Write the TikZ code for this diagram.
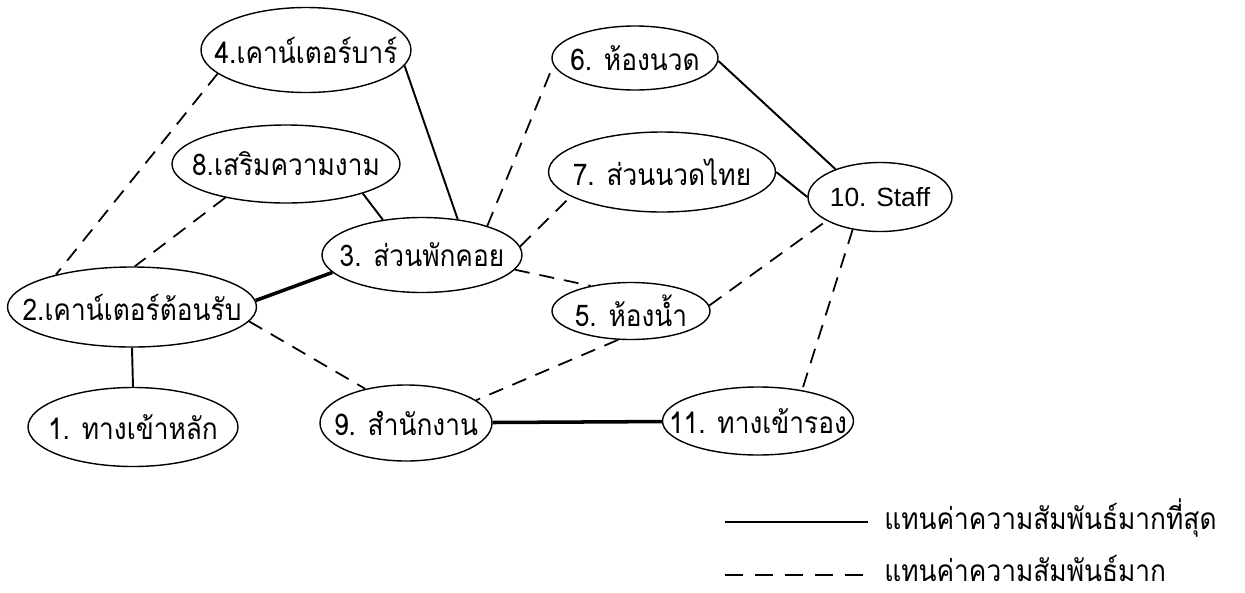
\documentclass[tikz,border=0pt]{standalone}
\usepackage{fontspec}
\setmainfont{Liberation Sans}
\newfontfamily\thaifont[Script=Thai,FakeStretch=0.88]{Loma}
\usetikzlibrary{shapes.geometric}

\tikzset{
  room/.style={ellipse,draw,line width=0.8pt,inner xsep=-1.6cm,inner ysep=-0.2cm,
    font=\thaifont\fontsize{17}{20}\selectfont},
  strong/.style={line width=1.1pt},
  strongest/.style={line width=2pt},
  weak/.style={line width=1pt,dash pattern=on 0.3cm off 0.2cm},
  legendtext/.style={anchor=west,inner sep=0pt,font=\thaifont\fontsize{17}{20}\selectfont}
}

\begin{document}
\begin{tikzpicture}
  \useasboundingbox (0,0) rectangle (24.9,-11.86);

  % rooms
  \node[room,minimum width=4.2cm,minimum height=1.7cm] (bar) at (6.12,-1.00) {4.เคาน์เตอร์บาร์};
  \node[room,minimum width=4.56cm,minimum height=1.56cm] (beauty) at (5.72,-3.28) {8.เสริมความงาม};
  \node[room,minimum width=4.0cm,minimum height=1.5cm] (lounge) at (8.44,-5.10) {3. ส่วนพักคอย};
  \node[room,minimum width=4.98cm,minimum height=1.6cm] (recep) at (2.64,-6.14) {2.เคาน์เตอร์ต้อนรับ};
  \node[room,minimum width=4.2cm,minimum height=1.58cm] (mainent) at (2.66,-8.54) {1. ทางเข้าหลัก};
  \node[room,minimum width=3.44cm,minimum height=1.52cm] (office) at (8.12,-8.46) {9. สำนักงาน};
  \node[room,minimum width=3.32cm,minimum height=1.28cm] (massage) at (12.70,-1.16) {6. ห้องนวด};
  \node[room,minimum width=4.54cm,minimum height=1.6cm] (thai) at (13.24,-3.44) {7. ส่วนนวดไทย};
  \node[room,minimum width=2.88cm,minimum height=1.38cm,font=\rmfamily\fontsize{15}{18}\selectfont] (staff) at (17.60,-3.94) {10. Staff};
  \node[room,minimum width=3.16cm,minimum height=1.14cm] (toilet) at (12.62,-6.22) {5. ห้องน้ำ};
  \node[room,minimum width=3.82cm,minimum height=1.36cm] (sideent) at (15.16,-8.42) {11. ทางเข้ารอง};

  % relations
  \draw[weak] (bar.195) -- (recep.157);
  \draw[weak] (beauty.209) -- (recep.86);
  \draw[strong] (bar.-9) -- (lounge.45);
  \draw[strong] (beauty.-21) -- (lounge.138);
  \draw[strongest] (recep.3) -- (lounge.191);
  \draw[strong] (recep.south) -- (mainent.north);
  \draw[weak] (recep.-7) -- (office.140);
  \draw[weak] (lounge.24) -- (massage.185);
  \draw[weak] (lounge.5) -- (thai.195);
  \draw[weak] (lounge.-9) -- (toilet.148);
  \draw[weak] (toilet.4) -- (staff.204);
  \draw[weak] (toilet.-114) -- (office.18);
  \draw[strongest] (office) -- (sideent);
  \draw[weak] (staff.-130) -- (sideent.35);
  \draw[strong] (massage.-2) -- (staff.148);
  \draw[strong] (thai.east) -- (staff.west);

  % legend
  \coordinate (solidA) at (14.50,-10.44);
  \coordinate (solidB) at (17.36,-10.44);
  \coordinate (dashA) at (14.50,-11.50);
  \coordinate (dashB) at (17.36,-11.50);
  \draw[strong] (solidA) -- (solidB);
  \draw[strong,dash pattern=on 0.36cm off 0.24cm] (dashA) -- (dashB);
  \node[legendtext] (solidtxt) at (17.68,-10.36) {แทนค่าความสัมพันธ์มากที่สุด};
  \node[legendtext] (dashtxt) at (17.68,-11.36) {แทนค่าความสัมพันธ์มาก};
\end{tikzpicture}
\end{document}
